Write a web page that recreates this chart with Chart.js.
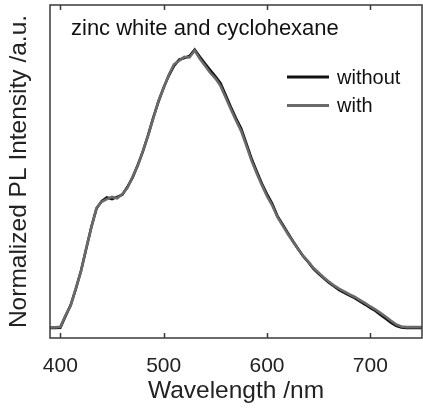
<!DOCTYPE html>
<html>
<head>
<meta charset="utf-8">
<script src="https://cdn.jsdelivr.net/npm/chart.js"></script>
<style>
  html, body { margin: 0; padding: 0; background: #fff; }
  #wrap { width: 423px; height: 409px; }
</style>
</head>
<body>
<div id="wrap"><canvas id="chartPL"></canvas></div>
<script>
// data (5 nm steps)
var wavelength = [390,395,400,405,410,415,420,425,430,435,440,445,450,455,460,465,470,475,480,485,490,495,500,505,510,515,520,525,530,535,540,545,550,555,560,565,570,575,580,585,590,595,600,605,610,615,620,625,630,635,640,645,650,655,660,665,670,675,680,685,690,695,700,705,710,715,720,725,730,735,740,745,750];
var without = [0.000,0.000,0.001,0.042,0.082,0.140,0.205,0.283,0.362,0.428,0.455,0.468,0.462,0.470,0.478,0.506,0.540,0.585,0.634,0.692,0.755,0.812,0.862,0.905,0.940,0.962,0.968,0.975,0.998,0.972,0.948,0.925,0.902,0.878,0.835,0.792,0.752,0.715,0.662,0.608,0.562,0.518,0.480,0.446,0.402,0.372,0.342,0.312,0.284,0.257,0.236,0.212,0.194,0.178,0.162,0.149,0.136,0.126,0.116,0.107,0.095,0.084,0.072,0.061,0.047,0.033,0.019,0.008,0.002,0.000,0.000,0.000,0.000];
var withCyc = [0.002,0.002,0.004,0.045,0.080,0.142,0.203,0.285,0.360,0.430,0.452,0.462,0.470,0.465,0.480,0.503,0.543,0.582,0.636,0.690,0.752,0.815,0.860,0.908,0.945,0.958,0.972,0.970,0.995,0.965,0.940,0.915,0.895,0.868,0.826,0.784,0.744,0.706,0.654,0.600,0.555,0.512,0.473,0.440,0.398,0.368,0.338,0.310,0.283,0.258,0.238,0.215,0.198,0.181,0.166,0.152,0.140,0.130,0.120,0.111,0.100,0.089,0.077,0.066,0.053,0.040,0.026,0.013,0.005,0.003,0.003,0.003,0.003];
var xTicks = [400, 500, 600, 700];
var seriesNames = ['without', 'with'];
var noteText = 'zinc white and cyclohexane';

function pts(ys) {
  return wavelength.map(function (w, i) { return { x: w, y: ys[i] }; });
}

var FONT = "'Liberation Sans', Arial, Helvetica, sans-serif";

// frame, inward ticks, note and legend inside the plot
var framePlugin = {
  id: 'frame',
  afterDatasetsDraw: function (chart) {
    var ctx = chart.ctx;
    var a = chart.chartArea;
    var xs = chart.scales.x;
    ctx.save();
    ctx.strokeStyle = '#3a3a3a';
    ctx.lineWidth = 1.5;
    ctx.strokeRect(a.left, a.top, a.right - a.left, a.bottom - a.top);
    ctx.beginPath();
    xTicks.forEach(function (t) {
      var px = Math.round(xs.getPixelForValue(t)) + 0.5;
      ctx.moveTo(px, a.bottom);
      ctx.lineTo(px, a.bottom - 5);
      ctx.moveTo(px, a.top);
      ctx.lineTo(px, a.top + 5);
    });
    ctx.stroke();

    ctx.fillStyle = '#111';
    ctx.textBaseline = 'middle';
    ctx.textAlign = 'left';
    ctx.font = '22px ' + FONT;
    ctx.fillText(noteText, 71, 29);

    ctx.font = '20px ' + FONT;
    chart.data.datasets.forEach(function (ds, i) {
      var y = 77 + i * 28.5;
      ctx.strokeStyle = ds.borderColor;
      ctx.lineWidth = 3;
      ctx.beginPath();
      ctx.moveTo(287, y);
      ctx.lineTo(329, y);
      ctx.stroke();
      ctx.fillText(seriesNames[i], 337, y + 1);
    });
    ctx.restore();
  }
};

var ctx1 = document.getElementById('chartPL').getContext('2d');
var chart1 = new Chart(ctx1, {
  type: 'line',
  data: {
    datasets: [{
        label: seriesNames[0],
        data: pts(without),
        borderColor: '#111111',
        backgroundColor: '#111111',
        borderWidth: 2.6,
        pointRadius: 0,
        fill: false,
        order: 2
    },
    {
        label: seriesNames[1],
        data: pts(withCyc),
        borderColor: '#6a6a6a',
        backgroundColor: '#6a6a6a',
        borderWidth: 2.6,
        pointRadius: 0,
        fill: false,
        order: 1
    }]
  },
  options: {
    responsive: true,
    maintainAspectRatio: false,
    animation: false,
    events: [],
    layout: { padding: { top: 5, right: 1, left: 0, bottom: 0 } },
    plugins: {
      legend: { display: false },
      tooltip: { enabled: false }
    },
    scales: {
      x: {
        type: 'linear',
        min: 390,
        max: 750,
        afterBuildTicks: function (scale) {
          scale.ticks = xTicks.map(function (v) { return { value: v }; });
        },
        afterFit: function (scale) { scale.height = 71; },
        grid: { display: false },
        border: { display: false },
        ticks: {
          color: '#222',
          padding: 8,
          maxRotation: 0,
          font: { family: FONT, size: 21 }
        },
        title: {
          display: true,
          text: 'Wavelength /nm',
          color: '#222',
          padding: { top: 0, bottom: 3 },
          font: { family: FONT, size: 24.5 }
        }
      },
      y: {
        min: -0.036,
        max: 1.158,
        afterFit: function (scale) { scale.width = 50; },
        grid: { display: false },
        border: { display: false },
        ticks: { display: false },
        title: {
          display: true,
          text: 'Normalized PL Intensity /a.u.',
          color: '#222',
          padding: { top: 4.5, bottom: 0 },
          font: { family: FONT, size: 24.5 }
        }
      }
    }
  },
  plugins: [framePlugin]
});
</script>
</body>
</html>
